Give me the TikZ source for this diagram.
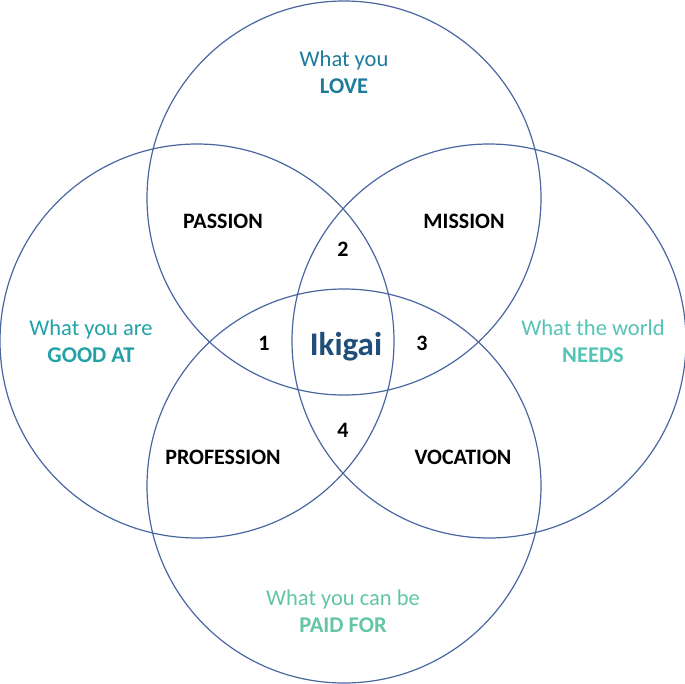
\documentclass[tikz,border=0pt]{standalone}
\usepackage{fontspec}
\setmainfont{Carlito}
\usepackage{tikz}
\usetikzlibrary{positioning}
\usepackage{xcolor}
\definecolor{ringblue}{HTML}{4A66A0}
\definecolor{lovecol}{HTML}{1E7B9B}
\definecolor{goodcol}{HTML}{22A2A6}
\definecolor{needcol}{HTML}{55C3B6}
\definecolor{paidcol}{HTML}{62C6A2}
\definecolor{ikicol}{HTML}{1F4E79}

\begin{document}
\begin{tikzpicture}[x=1pt, y=-1pt,
    ring/.style={draw=ringblue, line width=1.2pt},
    outer/.style={align=center, font=\fontsize{22.5}{27}\selectfont},
    inner/.style={font=\fontsize{22}{24}\selectfont\bfseries, text=black}]
                \useasboundingbox (0,0) rectangle (685,683);
                % the four circles
                \draw[ring] (344,198) circle (197);
                \draw[ring] (197,341) circle (197);
                \draw[ring] (489,341) circle (197);
                \draw[ring] (344,486) circle (197);
                % outer labels
                \node[outer, text=lovecol] (love) at (344,72) {What you\\\textbf{LOVE}};
                \node[outer, text=goodcol] (good) at (91,341) {What you are\\\textbf{GOOD AT}};
                \node[outer, text=needcol] (need) at (593,341) {What the world\\\textbf{NEEDS}};
                \node[outer, text=paidcol] (paid) at (343,611) {What you can be\\\textbf{PAID FOR}};
                % overlaps
                \node[inner] (passion) at (223,221) {PASSION};
                \node[inner] (mission) at (464,221) {MISSION};
                \node[inner] (profession) at (223,457) {PROFESSION};
                \node[inner] (vocation) at (463,457) {VOCATION};
                \node[inner] (one) at (264,343) {1};
                \node[inner] (two) at (343,249) {2};
                \node[inner] (three) at (422,343) {3};
                \node[inner] (four) at (343,430) {4};
                \node[font=\fontsize{33}{36}\selectfont\bfseries, text=ikicol] (ikigai) at (346,347) {Ikigai};
            \end{tikzpicture}
\end{document}
